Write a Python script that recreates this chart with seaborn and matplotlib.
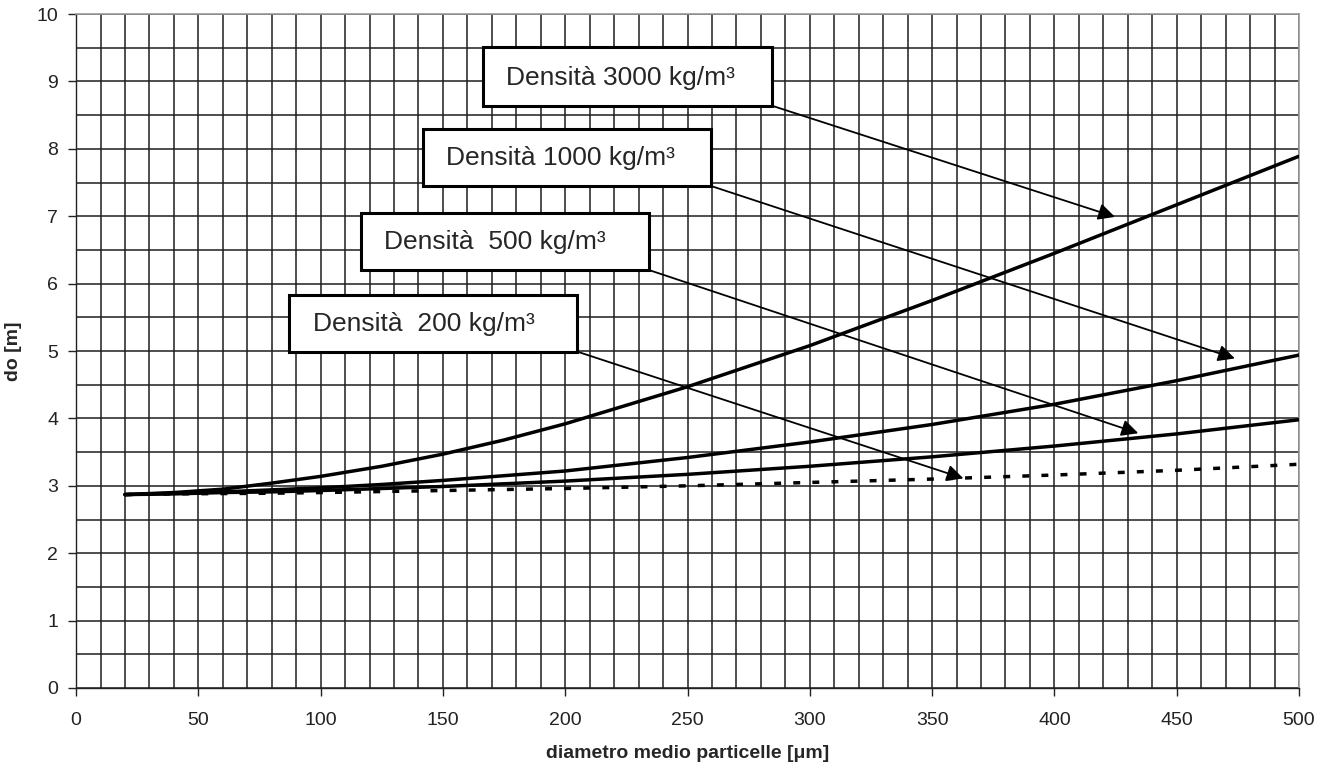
import numpy as np
import pandas as pd
import matplotlib
matplotlib.use("Agg")
import matplotlib.pyplot as plt
from matplotlib.patches import Rectangle
from matplotlib.ticker import MultipleLocator
import seaborn as sns

# diametro medio particelle [um]
diametro = [20, 40, 60, 80, 100, 125, 150, 175, 200, 250, 300, 350, 400, 450, 500]

# do [m] per densita
do_3000 = [2.87, 2.90, 2.95, 3.04, 3.14, 3.29, 3.47, 3.68, 3.92,
           4.47, 5.08, 5.75, 6.45, 7.17, 7.89]
do_1000 = [2.87, 2.89, 2.91, 2.94, 2.97, 3.02, 3.08, 3.15, 3.22,
           3.42, 3.65, 3.91, 4.21, 4.56, 4.94]
do_500 = [2.87, 2.88, 2.90, 2.91, 2.93, 2.96, 2.99, 3.03, 3.07,
          3.17, 3.29, 3.43, 3.59, 3.77, 3.98]
do_200 = [2.87, 2.88, 2.885, 2.89, 2.90, 2.915, 2.93, 2.945, 2.96,
          3.00, 3.05, 3.10, 3.16, 3.23, 3.32]

densita = ["3000", "1000", "500", "200"]
etichette = ["Densità 3000 kg/m³", "Densità 1000 kg/m³",
             "Densità  500 kg/m³", "Densità  200 kg/m³"]

# where each label box sits (left, bottom, width, height) and where its arrow points
box_pos = [(166.4, 8.64, 118.1, 0.87),
           (141.7, 7.45, 117.8, 0.84),
           (116.4, 6.20, 118.0, 0.85),
           (87.2, 4.99, 117.8, 0.84)]
arrow_tip = [(424.8, 6.99), (473.8, 4.89), (434.3, 3.78), (362.8, 3.11)]

df = pd.DataFrame({
    "diametro": diametro * 4,
    "do": do_3000 + do_1000 + do_500 + do_200,
    "densita": sum([[d] * len(diametro) for d in densita], []),
})

sns.set_style("white")
plt.rcParams["font.family"] = ["Liberation Sans", "DejaVu Sans"]

fig = plt.figure(figsize=(13.32, 7.67), dpi=100)
ax = fig.add_axes([0.0571, 0.103, 0.9181, 0.8787])

sns.lineplot(data=df, x="diametro", y="do", hue="densita", style="densita",
             palette={d: "black" for d in densita},
             dashes={"3000": "", "1000": "", "500": "", "200": (2, 3.5)},
             linewidth=2.5, legend=False, ax=ax, zorder=3)

ax.set_xlim(0, 500)
ax.set_ylim(0, 10)
ax.xaxis.set_major_locator(MultipleLocator(50))
ax.yaxis.set_major_locator(MultipleLocator(1))
ax.xaxis.set_minor_locator(MultipleLocator(10))
ax.yaxis.set_minor_locator(MultipleLocator(0.5))
ax.grid(True, which="both", color="#1e1e1e", linewidth=1.1)
ax.set_axisbelow(True)

ax.tick_params(axis="both", which="major", direction="out", length=6,
               width=1.0, color="#222222", labelsize=14,
               labelcolor="#222222", bottom=True, left=True)
ax.tick_params(axis="x", which="major", pad=11)
ax.tick_params(axis="y", which="major", pad=7)
ax.tick_params(which="minor", length=0)

for s in ["left", "bottom"]:
    ax.spines[s].set_color("#222222")
    ax.spines[s].set_linewidth(1.0)
for s in ["top", "right"]:
    ax.spines[s].set_color("#999999")
    ax.spines[s].set_linewidth(1.2)

ax.set_xlabel("diametro medio particelle [μm]", fontsize=14,
              fontweight="bold", labelpad=12)
ax.set_ylabel("do [m]", fontsize=14, fontweight="bold", labelpad=10)

for testo, (x0, y0, w, h), tip in zip(etichette, box_pos, arrow_tip):
    ax.add_patch(Rectangle((x0, y0), w, h, facecolor="white",
                           edgecolor="black", linewidth=2.2, zorder=5))
    ax.text(x0 + 9.5, y0 + 0.31, testo, fontsize=19, ha="left",
            va="baseline", zorder=6)
    ax.annotate("", xy=tip, xytext=(x0 + w, y0),
                arrowprops=dict(arrowstyle="-|>", color="black", lw=1.3,
                                mutation_scale=25, shrinkA=0, shrinkB=0),
                zorder=4)

fig.savefig("out.png", dpi=100)
